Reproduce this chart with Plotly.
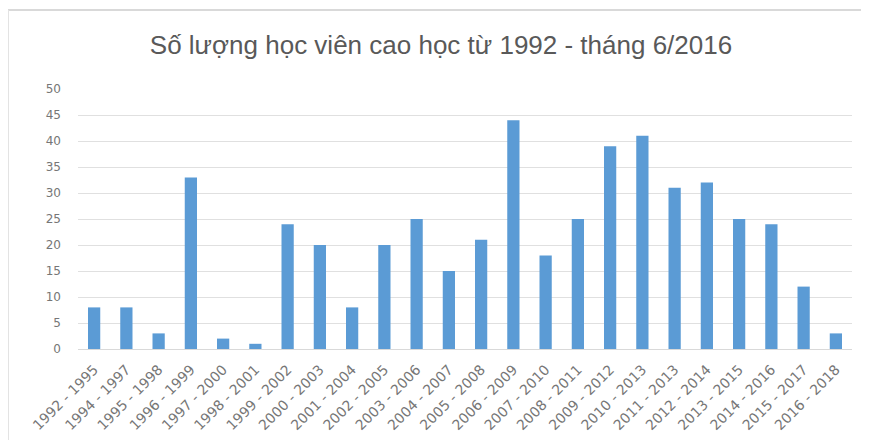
import plotly.graph_objects as go

categories = ["1992 - 1995", "1994 - 1997", "1995 - 1998", "1996 - 1999", "1997 - 2000",
              "1998 - 2001", "1999 - 2002", "2000 - 2003", "2001 - 2004", "2002 - 2005",
              "2003 - 2006", "2004 - 2007", "2005 - 2008", "2006 - 2009", "2007 - 2010",
              "2008 - 2011", "2009 - 2012", "2010 - 2013", "2011 - 2013", "2012 - 2014",
              "2013 - 2015", "2014 - 2016", "2015 - 2017", "2016 - 2018"]
values = [8, 8, 3, 33, 2, 1, 24, 20, 8, 20, 25, 15, 21, 44, 18, 25, 39, 41, 31, 32, 25, 24, 12, 3]
y_ticks = [0, 5, 10, 15, 20, 25, 30, 35, 40, 45, 50]

OFF = 8  # page body margin
W, H = 869, 447
L, R, T, B = 78 - OFF, 17 + OFF, 89 - OFF, 98 + OFF
pw, ph = W - L - R, H - T - B

def px(x):
    return (x - OFF - L) / pw

def py(y):
    return (H - B - (y - OFF)) / ph

fig = go.Figure(go.Bar(x=categories, y=values, marker_color="#5b9bd5",
                       marker_line_width=0))

fig.update_layout(
    width=W, height=H,
    margin=dict(l=L, r=R, t=T, b=B, autoexpand=False),
    paper_bgcolor="white", plot_bgcolor="white",
    bargap=0.62,
    showlegend=False,
    font=dict(family="DejaVu Sans, sans-serif", color="#595959"),
    title=dict(text="Số lượng học viên cao học từ 1992 - tháng 6/2016",
               x=(441 - OFF) / W, xref="container", xanchor="center",
               y=1 - (45 - OFF) / H, yanchor="middle",
               font=dict(family="Liberation Sans, Arial, sans-serif", size=26, color="#595959")),
    xaxis=dict(tickangle=-45, tickfont=dict(size=14, color="#767676"),
               showgrid=False, showline=True, linecolor="#d9d9d9", linewidth=1,
               ticks="", ticklabelstandoff=6),
    yaxis=dict(range=[0, 50], tickvals=y_ticks, tickfont=dict(size=12, color="#767676"),
               showgrid=True, gridcolor="#e0e0e0", gridwidth=1, zeroline=False,
               showline=False, ticks="", ticklabelstandoff=16),
    shapes=[
        dict(type="line", xref="paper", yref="paper", x0=px(8), x1=px(W + 20), y0=py(10), y1=py(10),
             line=dict(color="#d9d9d9", width=2)),
        dict(type="line", xref="paper", yref="paper", x0=px(8), x1=px(8), y0=py(10), y1=py(440),
             line=dict(color="#e3e3e3", width=2)),
    ],
)

fig.write_html("out.html")
